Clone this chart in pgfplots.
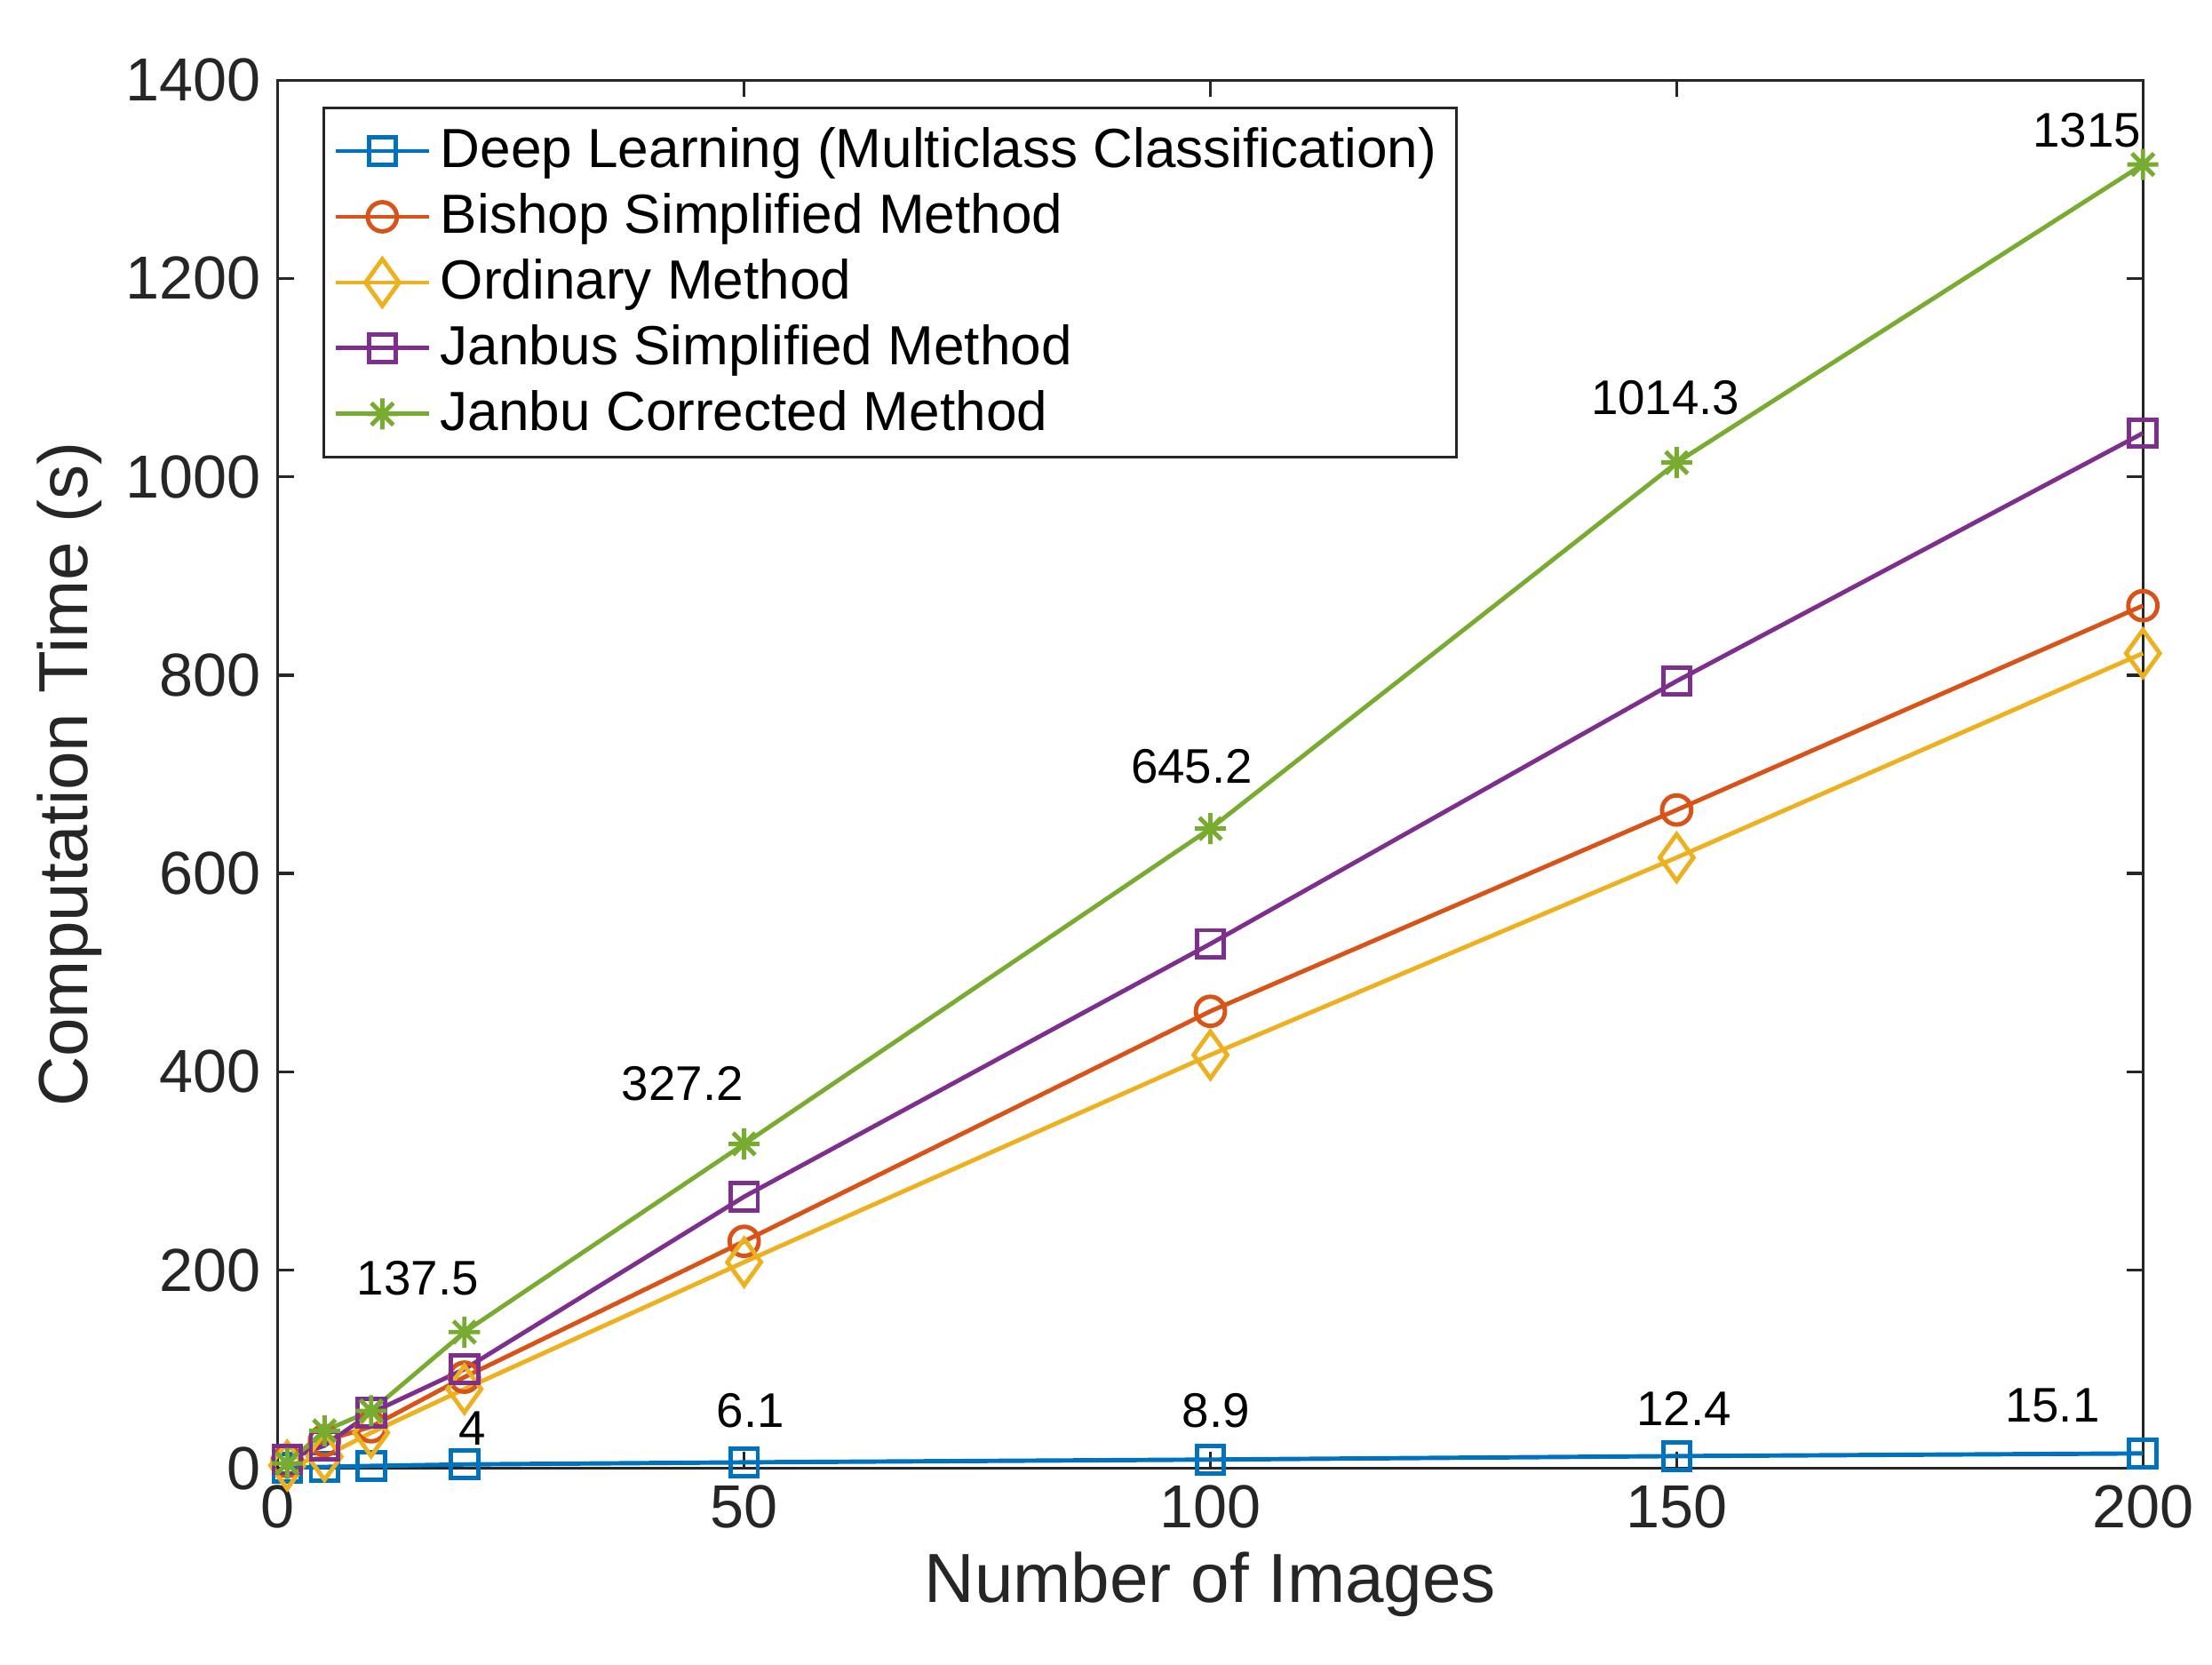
\documentclass[border=0pt]{standalone}
\usepackage{fontspec}
\setmainfont{Liberation Sans}
\usepackage{pgfplots}
\pgfplotsset{compat=1.18}
\definecolor{mblue}{HTML}{0072BD}
\definecolor{morange}{HTML}{D95319}
\definecolor{myellow}{HTML}{EDB120}
\definecolor{mpurple}{HTML}{7E2F8E}
\definecolor{mgreen}{HTML}{77AC30}
\definecolor{axgray}{HTML}{262626}
% MATLAB-style asterisk (+ and x together)
\pgfdeclareplotmark{mstar}{%
  \pgfpathmoveto{\pgfqpoint{-\pgfplotmarksize}{0pt}}\pgfpathlineto{\pgfqpoint{\pgfplotmarksize}{0pt}}%
  \pgfpathmoveto{\pgfqpoint{0pt}{-\pgfplotmarksize}}\pgfpathlineto{\pgfqpoint{0pt}{\pgfplotmarksize}}%
  \pgfpathmoveto{\pgfqpoint{-.707\pgfplotmarksize}{-.707\pgfplotmarksize}}\pgfpathlineto{\pgfqpoint{.707\pgfplotmarksize}{.707\pgfplotmarksize}}%
  \pgfpathmoveto{\pgfqpoint{-.707\pgfplotmarksize}{.707\pgfplotmarksize}}\pgfpathlineto{\pgfqpoint{.707\pgfplotmarksize}{-.707\pgfplotmarksize}}%
  \pgfusepathqstroke}
\pgfdeclareplotmark{mdiamond}{%
  \pgfpathmoveto{\pgfqpoint{0pt}{\pgfplotmarksize}}%
  \pgfpathlineto{\pgfqpoint{.72\pgfplotmarksize}{0pt}}%
  \pgfpathlineto{\pgfqpoint{0pt}{-\pgfplotmarksize}}%
  \pgfpathlineto{\pgfqpoint{-.72\pgfplotmarksize}{0pt}}%
  \pgfpathclose\pgfusepathqstroke}
\tikzset{
  lbl/.style={font=\fontsize{10}{12}\selectfont, text=black, inner sep=0pt},
}
\begin{document}
\begin{tikzpicture}
\begin{axis}[
  scale only axis, width=13.49cm, height=10.04cm,
  xmin=0, xmax=200, ymin=0, ymax=1400,
  xtick={0,50,100,150,200}, ytick={0,200,...,1400},
  tick align=inside, major tick length=0.12cm,
  xtick pos=both, ytick pos=both,
  axis line style={axgray, line width=0.6pt},
  every tick/.style={axgray, line width=0.6pt},
  tick label style={font=\fontsize{12.5}{14}\selectfont, text=axgray},
  /pgf/number format/assume math mode=true,
  /pgf/number format/1000 sep={},
  xlabel={Number of Images}, ylabel={Computation Time (s)},
  label style={font=\fontsize{14.3}{16}\selectfont, text=axgray},
  xlabel style={yshift=2pt}, ylabel style={yshift=-2pt},
  clip=false,
  legend cell align=left,
  legend style={at={(0.024,0.981)}, anchor=north west, draw=axgray, line width=0.6pt,
    font=\fontsize{11.35}{13}\selectfont, row sep=-0.2pt, inner xsep=2pt, inner ysep=2pt},
  legend image code/.code={%
    \draw[#1, mark repeat=2, mark phase=2] plot coordinates {(0cm,0cm) (0.335cm,0cm) (0.67cm,0cm)};},
  every axis plot/.append style={line width=0.9pt, mark options={solid, line width=0.9pt}},
]
\addplot[mblue, mark=square, mark size=2.8pt] coordinates
  {(1,0.8) (5,1.5) (10,2.5) (20,4) (50,6.1) (100,8.9) (150,12.4) (200,15.1)};
\addplot[morange, mark=o, mark size=3pt] coordinates
  {(1,7) (5,28) (10,42) (20,92) (50,229) (100,461) (150,664) (200,870)};
\addplot[myellow, mark=mdiamond, mark size=4.8pt] coordinates
  {(1,3) (5,12) (10,36) (20,80) (50,208) (100,417) (150,616) (200,822)};
\addplot[mpurple, mark=square, mark size=2.8pt] coordinates
  {(1,9) (5,23) (10,56) (20,100) (50,274) (100,529) (150,794) (200,1044)};
\addplot[mgreen, mark=mstar, mark size=3.2pt] coordinates
  {(1,5) (5,38) (10,58) (20,137.5) (50,327.2) (100,645.2) (150,1014.3) (200,1315)};
\legend{Deep Learning (Multiclass Classification), Bishop Simplified Method,
  Ordinary Method, Janbus Simplified Method, Janbu Corrected Method}
\node[lbl] at (axis cs:15,192) {137.5};
\node[lbl] at (axis cs:43.4,388) {327.2};
\node[lbl] at (axis cs:98,708) {645.2};
\node[lbl] at (axis cs:148.8,1080) {1014.3};
\node[lbl] at (axis cs:194,1349) {1315};
\node[lbl] at (axis cs:20.9,40) {4};
\node[lbl] at (axis cs:50.7,58) {6.1};
\node[lbl] at (axis cs:100.6,58) {8.9};
\node[lbl] at (axis cs:150.8,60) {12.4};
\node[lbl] at (axis cs:190.3,63) {15.1};
\end{axis}
\path[use as bounding box] (-2.01,-1.418) rectangle (13.99,10.62);
\end{tikzpicture}
\end{document}
